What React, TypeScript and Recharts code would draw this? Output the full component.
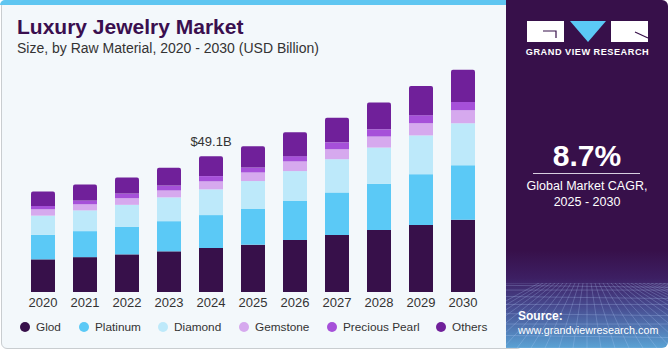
import { BarChart, Bar, XAxis, YAxis, LabelList } from "recharts";

const years = ["2020", "2021", "2022", "2023", "2024", "2025", "2026", "2027", "2028", "2029", "2030"];
const gold = [11.8, 12.6, 13.6, 14.7, 15.9, 17.1, 18.8, 20.6, 22.4, 24.2, 26.1];
const platinum = [8.9, 9.4, 10.0, 10.9, 11.9, 12.9, 14.1, 15.4, 16.7, 18.4, 19.7];
const diamond = [6.9, 7.5, 7.9, 8.6, 9.3, 10.1, 10.8, 12.0, 13.1, 14.0, 15.2];
const gemstone = [2.3, 2.2, 2.4, 2.5, 2.9, 3.1, 3.5, 3.6, 4.0, 4.4, 4.7];
const pearl = [1.2, 1.4, 1.7, 1.8, 1.9, 1.8, 1.9, 2.5, 2.6, 2.9, 3.0];
const others = [5.2, 5.8, 5.8, 6.4, 7.2, 7.7, 8.6, 8.9, 9.7, 10.6, 11.6];

const series = [
  { key: "gold", name: "Glod", color: "#37104a", values: gold },
  { key: "platinum", name: "Platinum", color: "#5bc9f6", values: platinum },
  { key: "diamond", name: "Diamond", color: "#bde9fa", values: diamond },
  { key: "gemstone", name: "Gemstone", color: "#d6a9ee", values: gemstone },
  { key: "pearl", name: "Precious Pearl", color: "#a650d9", values: pearl },
  { key: "others", name: "Others", color: "#70209a", values: others },
];

const data = years.map((year, i) => {
  const row: Record<string, string | number> = { year };
  series.forEach((s) => (row[s.key] = s.values[i]));
  return row;
});

const highlightIndex = 4;
const highlightTotal = series.reduce((sum, s) => sum + s.values[highlightIndex], 0);

const font = "'Liberation Sans', Arial, sans-serif";
const legendLeft = [20, 79, 158, 239, 327, 436];

function Mesh() {
  // decorative perspective grid at the bottom of the side panel
  const lines = [];
  for (let i = 0; i < 9; i++) {
    const y = Math.pow(i / 8, 1.6) * 65;
    lines.push(<line key={"h" + i} x1={0} x2={162} y1={y} y2={y + (i % 2) * 2} />);
  }
  for (let i = -12; i <= 24; i++) {
    lines.push(<line key={"v" + i} x1={81 + i * 4} y1={0} x2={81 + i * 14} y2={65} />);
  }
  return (
    <svg width={162} height={65} style={{ position: "absolute", left: 0, top: 283 }}>
      <g stroke="rgba(190,215,255,0.3)" strokeWidth={0.8}>{lines}</g>
    </svg>
  );
}

export default function App() {
  return (
    <div style={{ position: "fixed", left: 0, top: 0, width: 671, height: 350, background: "#fff", fontFamily: font, overflow: "hidden" }}>
      <div style={{ position: "absolute", left: 1, top: 0, width: 520, height: 347, background: "#f3f8fb", border: "1px solid #c9cdd0", borderRadius: 6 }} />
      <div style={{ position: "absolute", left: 0, top: 0, width: 510, height: 5, background: "#5fc6f1", borderTopLeftRadius: 6 }} />

      <div style={{ position: "absolute", left: 17, top: 15, fontSize: 21, fontWeight: 700, color: "#3a0f4f", whiteSpace: "nowrap" }}>
        Luxury Jewelry Market
      </div>
      <div style={{ position: "absolute", left: 17, top: 40, fontSize: 14, color: "#333", whiteSpace: "nowrap" }}>
        Size, by Raw Material, 2020 - 2030 (USD Billion)
      </div>

      <div style={{ position: "absolute", left: 0, top: 0 }}>
        <BarChart width={500} height={350} data={data} margin={{ top: 43, right: 16, left: 22, bottom: 28 }} barSize={24}>
          <XAxis
            dataKey="year"
            axisLine={false}
            tickLine={false}
            tickMargin={0}
            height={30}
            interval={0}
            tick={{ fill: "#333", fontSize: 13, fontFamily: font }}
          />
          <YAxis hide domain={[0, 90]} />
          {series.map((s, idx) => (
            <Bar
              key={s.key}
              dataKey={s.key}
              name={s.name}
              stackId="a"
              fill={s.color}
              isAnimationActive={false}
              radius={idx === series.length - 1 ? [2, 2, 0, 0] : 0}
            >
              {idx === series.length - 1 && (
                <LabelList
                  dataKey={s.key}
                  content={(p: any) =>
                    p.index === highlightIndex ? (
                      <text x={p.x + p.width / 2} y={p.y - 10} textAnchor="middle" fontSize={13} fill="#333" fontFamily={font}>
                        {`$${highlightTotal.toFixed(1)}B`}
                      </text>
                    ) : null
                  }
                />
              )}
            </Bar>
          ))}
        </BarChart>
      </div>

      {series.map((s, i) => (
        <div
          key={s.key}
          style={{
            position: "absolute",
            left: legendLeft[i],
            top: 320,
            height: 14,
            display: "flex",
            alignItems: "center",
            fontSize: 11.8,
            color: "#333",
            whiteSpace: "nowrap",
          }}
        >
          <span style={{ width: 10, height: 10, borderRadius: 5, background: s.color, display: "inline-block", marginRight: 6 }} />
          <span>{s.name}</span>
        </div>
      ))}

      <div
        style={{
          position: "absolute",
          left: 506,
          top: 0,
          width: 162,
          height: 348,
          borderRadius: "0 6px 6px 0",
          overflow: "hidden",
          background: "linear-gradient(180deg, #37104a 0%, #37104a 72%, #3d1f63 80%, #474a8f 88%, #5aa2d4 100%)",
        }}
      >
        <Mesh />
        <svg width={162} height={60} style={{ position: "absolute", left: 0, top: 0 }}>
          <rect x={21} y={21} width={37} height={21} fill="#fff" />
          <path d="M37 31 H50 V38" stroke="#37104a" strokeWidth={1.2} fill="none" />
          <path d="M64 21 H100 L82 42 Z" fill="#5bc9f6" />
          <rect x={105} y={21} width={37} height={21} fill="#fff" />
          <path d="M129 32 L142 38" stroke="#37104a" strokeWidth={1.2} />
          <text x={81.5} y={55} textAnchor="middle" fill="#fff" fontSize={9.2} fontWeight={700} letterSpacing={0.5} fontFamily={font}>
            GRAND VIEW RESEARCH
          </text>
        </svg>
        <div style={{ position: "absolute", left: 0, width: 162, top: 139, textAlign: "center", color: "#fff", fontSize: 30, fontWeight: 700 }}>
          8.7%
        </div>
        <div style={{ position: "absolute", left: 27, top: 173, width: 107, height: 1, background: "#d8cfe0" }} />
        <div style={{ position: "absolute", left: 0, width: 162, top: 178, textAlign: "center", color: "#fff", fontSize: 12.5, lineHeight: "16px" }}>
          Global Market CAGR,
          <br />
          2025 - 2030
        </div>
        <div style={{ position: "absolute", left: 12, top: 309, color: "#fff", fontSize: 10.8, lineHeight: "14px", whiteSpace: "nowrap" }}>
          <div style={{ fontWeight: 700, fontSize: 12 }}>Source:</div>
          <div>www.grandviewresearch.com</div>
        </div>
      </div>
    </div>
  );
}
